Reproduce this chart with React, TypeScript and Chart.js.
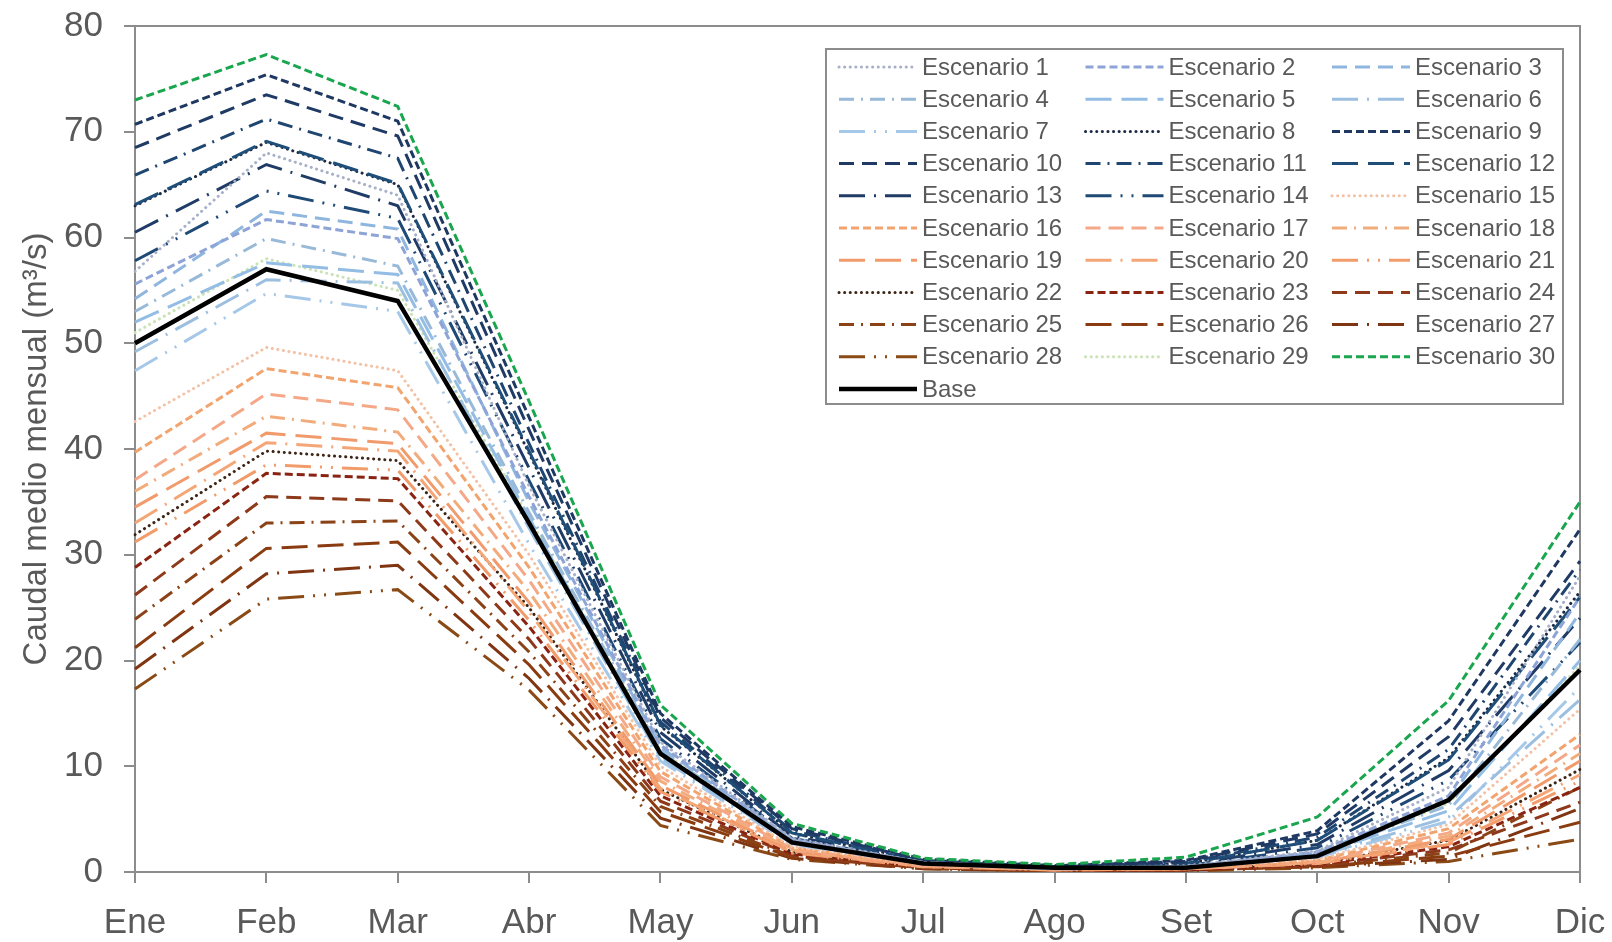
import React, { useEffect, useRef } from "react";
import { Chart, registerables } from "chart.js";

Chart.register(...registerables);

// ---------- data ----------
const months = ["Ene", "Feb", "Mar", "Abr", "May", "Jun", "Jul", "Ago", "Set", "Oct", "Nov", "Dic"];
const yMin = 0;
const yMax = 80;
const yStep = 10;

const esc1 = [56.8, 68.0, 64.0, 36.5, 12.3, 3.2, 0.9, 0.4, 0.6, 2.0, 8.0, 28.0];
const esc2 = [55.6, 61.7, 59.9, 35.5, 12.0, 3.1, 0.9, 0.4, 0.5, 1.9, 7.2, 26.0];
const esc3 = [54.2, 62.5, 60.8, 35.0, 11.8, 3.0, 0.9, 0.4, 0.5, 1.8, 6.8, 24.5];
const esc4 = [53.0, 59.9, 57.3, 34.0, 11.5, 2.9, 0.8, 0.4, 0.5, 1.7, 6.3, 22.0];
const esc5 = [52.0, 57.6, 56.5, 33.5, 11.0, 2.8, 0.8, 0.4, 0.5, 1.6, 5.8, 20.0];
const esc6 = [49.2, 56.0, 55.7, 32.5, 10.8, 2.7, 0.8, 0.3, 0.4, 1.5, 5.2, 16.3];
const esc7 = [47.4, 54.7, 53.0, 31.0, 10.5, 2.6, 0.8, 0.3, 0.4, 1.4, 4.8, 17.5];
const esc8 = [63.0, 69.0, 65.0, 39.6, 13.8, 3.7, 1.0, 0.5, 0.8, 3.0, 10.8, 26.5];
const esc9 = [70.7, 75.4, 71.0, 43.0, 15.0, 4.3, 1.2, 0.6, 1.1, 3.9, 14.3, 32.4];
const esc10 = [68.5, 73.5, 69.6, 41.8, 14.6, 4.1, 1.1, 0.6, 1.0, 3.6, 12.8, 29.4];
const esc11 = [65.9, 71.2, 67.5, 40.5, 14.2, 3.9, 1.1, 0.5, 0.9, 3.3, 11.6, 28.6];
const esc12 = [63.1, 69.1, 65.1, 39.8, 13.9, 3.7, 1.0, 0.5, 0.8, 3.0, 10.6, 26.0];
const esc13 = [60.5, 66.9, 63.0, 38.2, 13.2, 3.4, 1.0, 0.5, 0.7, 2.6, 9.6, 24.0];
const esc14 = [57.8, 64.4, 61.8, 37.0, 12.6, 3.2, 0.9, 0.4, 0.6, 2.3, 8.7, 21.7];
const esc15 = [42.6, 49.6, 47.4, 30.0, 10.0, 2.4, 0.7, 0.3, 0.4, 1.2, 4.5, 15.4];
const esc16 = [39.7, 47.6, 45.8, 28.8, 9.5, 2.3, 0.7, 0.3, 0.3, 1.1, 4.1, 13.0];
const esc17 = [37.1, 45.2, 43.7, 27.6, 9.0, 2.2, 0.6, 0.3, 0.3, 1.0, 3.7, 12.0];
const esc18 = [36.0, 43.1, 41.6, 26.5, 8.6, 2.1, 0.6, 0.3, 0.3, 0.9, 3.4, 11.2];
const esc19 = [34.5, 41.5, 40.5, 25.5, 8.2, 2.0, 0.6, 0.2, 0.3, 0.9, 3.1, 10.5];
const esc20 = [33.0, 40.6, 39.8, 24.6, 7.9, 1.9, 0.5, 0.2, 0.3, 0.8, 2.8, 9.2];
const esc21 = [31.2, 38.5, 38.0, 23.8, 7.6, 1.8, 0.5, 0.2, 0.3, 0.8, 2.6, 8.6];
const esc22 = [31.9, 39.8, 38.9, 25.0, 7.8, 1.9, 0.5, 0.2, 0.3, 0.8, 3.0, 9.7];
const esc23 = [28.8, 37.7, 37.2, 23.2, 7.2, 1.7, 0.5, 0.2, 0.2, 0.7, 2.4, 8.0];
const esc24 = [26.2, 35.5, 35.1, 22.0, 6.7, 1.6, 0.4, 0.2, 0.2, 0.6, 2.1, 6.6];
const esc25 = [23.9, 33.0, 33.2, 20.8, 6.2, 1.5, 0.4, 0.2, 0.2, 0.6, 1.8, 8.0];
const esc26 = [21.2, 30.6, 31.2, 19.6, 5.7, 1.4, 0.4, 0.1, 0.2, 0.5, 1.5, 4.7];
const esc27 = [19.2, 28.2, 29.0, 18.3, 5.1, 1.3, 0.3, 0.1, 0.2, 0.5, 1.2, 6.0];
const esc28 = [17.3, 25.8, 26.7, 17.2, 4.4, 1.2, 0.3, 0.1, 0.1, 0.4, 1.0, 3.1];
const esc29 = [51.0, 58.0, 55.0, 33.5, 11.5, 2.8, 0.9, 0.4, 0.5, 1.6, 6.5, 19.5];
const esc30 = [73.0, 77.3, 72.4, 44.5, 15.8, 4.6, 1.3, 0.7, 1.4, 5.2, 16.2, 35.0];
const base = [50.0, 57.0, 54.0, 33.0, 11.2, 2.8, 0.8, 0.4, 0.4, 1.5, 6.8, 19.1];

const scenarioSeries = [
  esc1, esc2, esc3, esc4, esc5, esc6, esc7, esc8, esc9, esc10,
  esc11, esc12, esc13, esc14, esc15, esc16, esc17, esc18, esc19, esc20,
  esc21, esc22, esc23, esc24, esc25, esc26, esc27, esc28, esc29, esc30,
];
const scenarioLabels = scenarioSeries.map((_, i) => `Escenario ${i + 1}`);
const baseLabel = "Base";
const yTitle = "Caudal medio mensual (m³/s)";

// ---------- styles ----------
const DOT = [0.1, 5.5];
const SDASH = [8, 4];
const DASH = [15, 8];
const DASHDOT = [15, 7, 2, 7];
const LDASH = [26, 10];
const LDASHDOT = [26, 9, 2, 9];
const LDASHDOTDOT = [26, 9, 2, 9, 2, 9];

const scenarioStyles: { color: string; dash: number[] }[] = [
  { color: "#a7b0c8", dash: DOT },
  { color: "#8ea3d6", dash: SDASH },
  { color: "#8fb6de", dash: DASH },
  { color: "#98b9d8", dash: DASHDOT },
  { color: "#93bde4", dash: LDASH },
  { color: "#9cbfe0", dash: LDASHDOT },
  { color: "#a6c8e8", dash: LDASHDOTDOT },
  { color: "#1c2a44", dash: DOT },
  { color: "#1f3862", dash: SDASH },
  { color: "#1f3a64", dash: DASH },
  { color: "#1f4670", dash: DASHDOT },
  { color: "#1f4e79", dash: LDASH },
  { color: "#203c66", dash: LDASHDOT },
  { color: "#1f4a76", dash: LDASHDOTDOT },
  { color: "#f3c2a6", dash: DOT },
  { color: "#f2a46e", dash: SDASH },
  { color: "#f4a888", dash: DASH },
  { color: "#f2ac7c", dash: DASHDOT },
  { color: "#f19a6c", dash: LDASH },
  { color: "#f4a676", dash: LDASHDOT },
  { color: "#f19c6a", dash: LDASHDOTDOT },
  { color: "#3d2517", dash: DOT },
  { color: "#8a2412", dash: SDASH },
  { color: "#8e3a1a", dash: DASH },
  { color: "#8a4216", dash: DASHDOT },
  { color: "#8a3b10", dash: LDASH },
  { color: "#7f3512", dash: LDASHDOT },
  { color: "#8a4a16", dash: LDASHDOTDOT },
  { color: "#c9e2b6", dash: DOT },
  { color: "#1aa64e", dash: SDASH },
];

const FONT = "'Liberation Sans', Arial, sans-serif";
const TEXT = "#595959";
const AXIS = "#8c8c8c";

const framePlugin = {
  id: "frame",
  beforeDatasetsDraw(chart: any) {
    const { ctx, chartArea } = chart;
    ctx.save();
    ctx.strokeStyle = AXIS;
    ctx.lineWidth = 2;
    ctx.beginPath();
    ctx.moveTo(chartArea.left, chartArea.top);
    ctx.lineTo(chartArea.right, chartArea.top);
    ctx.lineTo(chartArea.right, chartArea.bottom);
    ctx.stroke();
    ctx.restore();
  },
};

const legendPlugin = {
  id: "gridLegend",
  afterDraw(chart: any) {
    const { ctx, chartArea } = chart;
    const bx = chartArea.left + 691;
    const by = chartArea.top + 23;
    const bw = 737;
    const bh = 355;
    ctx.save();
    ctx.fillStyle = "#ffffff";
    ctx.fillRect(bx, by, bw, bh);
    ctx.strokeStyle = AXIS;
    ctx.lineWidth = 2;
    ctx.setLineDash([]);
    ctx.strokeRect(bx, by, bw, bh);
    chart.data.datasets.forEach((ds: any, i: number) => {
      const col = i % 3;
      const row = Math.floor(i / 3);
      const x0 = bx + 13 + col * 246.5;
      const yc = by + 18 + row * 32.2;
      ctx.strokeStyle = ds.borderColor;
      ctx.lineWidth = ds.borderWidth;
      ctx.lineCap = ds.borderCapStyle || "butt";
      ctx.setLineDash(ds.borderDash || []);
      ctx.beginPath();
      ctx.moveTo(x0, yc);
      ctx.lineTo(x0 + 78, yc);
      ctx.stroke();
      ctx.setLineDash([]);
      ctx.fillStyle = TEXT;
      ctx.font = `24px ${FONT}`;
      ctx.textBaseline = "middle";
      ctx.textAlign = "left";
      ctx.fillText(ds.label, x0 + 83, yc + 1);
    });
    ctx.restore();
  },
};

export default function App() {
  const ref = useRef<HTMLCanvasElement | null>(null);

  useEffect(() => {
    document.body.style.margin = "0";
    if (!ref.current) return;
    const datasets: any[] = scenarioSeries.map((values, i) => ({
      label: scenarioLabels[i],
      data: values,
      borderColor: scenarioStyles[i].color,
      backgroundColor: scenarioStyles[i].color,
      borderWidth: 3,
      borderDash: scenarioStyles[i].dash,
      borderCapStyle: scenarioStyles[i].dash === DOT ? "round" : "butt",
      fill: false,
      order: i === 29 ? -1 : i === 7 ? 1 : 0,
    }));
    datasets.push({
      label: baseLabel,
      data: base,
      borderColor: "#000000",
      backgroundColor: "#000000",
      borderWidth: 4.5,
      borderDash: [],
      fill: false,
      order: -2,
    });

    const chart = new Chart(ref.current, {
      type: "line",
      data: { labels: months, datasets },
      options: {
        animation: false,
        responsive: false,
        maintainAspectRatio: false,
        layout: { padding: { top: 26, right: 32, left: 0, bottom: 0 } },
        elements: { point: { radius: 0 }, line: { tension: 0 } },
        plugins: { legend: { display: false }, tooltip: { enabled: false } },
        scales: {
          x: {
            offset: false,
            grid: { drawOnChartArea: false, color: AXIS, lineWidth: 2, tickLength: 11 },
            border: { color: AXIS, width: 2 },
            ticks: { color: TEXT, font: { family: FONT, size: 35 }, padding: 19, maxRotation: 0, autoSkip: false },
            afterFit: (s: any) => {
              s.height = 70;
              s.paddingLeft = 0;
              s.paddingRight = 0;
            },
          },
          y: {
            min: yMin,
            max: yMax,
            grid: { drawOnChartArea: false, color: AXIS, lineWidth: 2, tickLength: 11 },
            border: { color: AXIS, width: 2 },
            ticks: { stepSize: yStep, color: TEXT, font: { family: FONT, size: 35 }, padding: 21 },
            title: { display: true, text: yTitle, color: TEXT, font: { family: FONT, size: 33 }, padding: { top: 17, bottom: 0 } },
            afterFit: (s: any) => {
              s.width = 135;
              s.paddingTop = 0;
              s.paddingBottom = 0;
            },
          },
        },
      },
      plugins: [framePlugin, legendPlugin],
    });
    return () => chart.destroy();
  }, []);

  return (
    <div style={{ width: 1612, height: 942, background: "#fff" }}>
      <canvas ref={ref} width={1612} height={942} style={{ display: "block", width: 1612, height: 942 }} />
    </div>
  );
}
